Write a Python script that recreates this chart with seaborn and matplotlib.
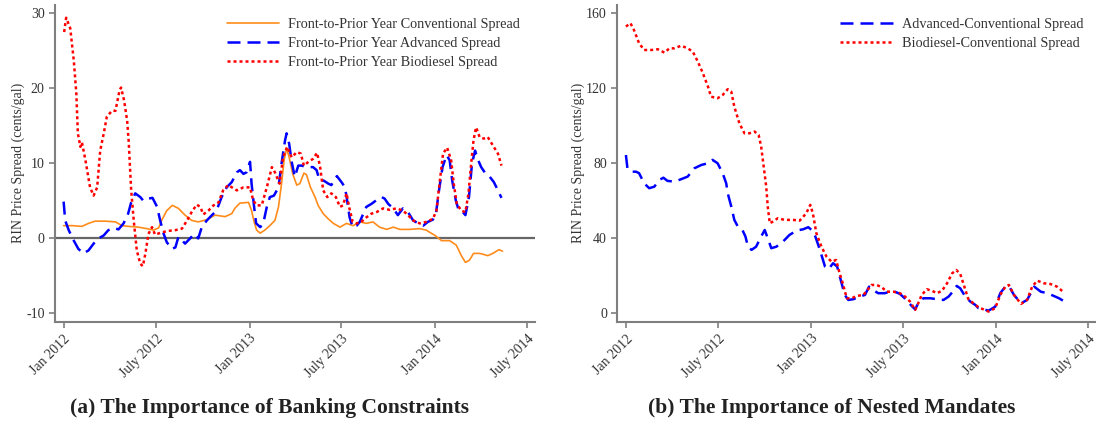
import numpy as np
import pandas as pd
import matplotlib
matplotlib.use("Agg")
import matplotlib.pyplot as plt
import seaborn as sns

# ---------------- data (days since 2012-01-01, value in cents/gal) ----------------
conv_days = [0, 17, 36, 49, 62, 82, 102, 115, 128, 147, 164, 177, 187, 193, 203, 214, 226, 239, 252,
             265, 282, 298, 318, 331, 337, 347, 364, 370, 375, 380, 387, 396, 406, 416, 423, 429, 434,
             439, 444, 451, 459, 465, 473, 478, 486, 495, 501, 511, 521, 531, 544, 557, 570, 583, 596,
             609, 622, 636, 649, 662, 681, 701, 714, 721, 731, 744, 760, 773, 783, 791, 799, 807, 819,
             825, 835, 845, 857, 864]
conv_vals = [1.7, 1.7, 1.6, 2.0, 2.3, 2.3, 2.2, 1.7, 1.6, 1.5, 1.3, 1.1, 1.4, 2.4, 3.7, 4.4, 4.0, 3.1, 2.4,
             2.2, 2.5, 3.1, 2.9, 3.3, 4.0, 4.7, 4.8, 3.7, 2.2, 1.1, 0.7, 1.1, 1.7, 2.4, 4.2, 7.3, 10.4,
             12.0, 10.8, 8.6, 7.1, 7.3, 8.7, 8.5, 6.8, 5.5, 4.4, 3.3, 2.6, 2.0, 1.5, 2.0, 1.7, 2.2, 2.0,
             2.2, 1.5, 1.2, 1.5, 1.2, 1.2, 1.3, 1.1, 0.8, 0.4, -0.3, -0.3, -0.9, -2.3, -3.2, -2.9, -2.0, -2.0,
             -2.1, -2.3, -2.0, -1.5, -1.7]

adv_days = [0, 3, 10, 20, 29, 39, 49, 59, 69, 79, 88, 98, 108, 118, 127, 133, 141, 151, 157, 167, 175,
            184, 190, 197, 203, 213, 220, 226, 234, 239, 249, 257, 265, 272, 282, 292, 301, 311, 321,
            331, 341, 347, 354, 360, 367, 370, 375, 379, 387, 393, 400, 406, 414, 423, 429, 436, 439,
            444, 449, 455, 462, 469, 477, 491, 498, 504, 512, 521, 527, 538, 547, 554, 558, 563, 569,
            577, 583, 590, 596, 606, 616, 626, 632, 639, 649, 658, 668, 678, 688, 698, 708, 717, 727,
            733, 739, 746, 754, 760, 765, 772, 778, 786, 791, 798, 804, 810, 815, 822, 831, 839, 847,
            855, 862]
adv_vals = [4.9, 2.4, 1.1, -0.3, -1.4, -2.0, -1.6, -0.7, 0.0, 0.4, 1.1, 1.4, 1.2, 2.0, 3.3, 4.8, 6.0, 5.5,
            5.0, 5.3, 5.4, 4.2, 2.4, 0.6, -0.5, -1.4, -1.2, 0.2, -0.3, -0.7, 0.0, 0.6, 0.0, 1.5, 2.4,
            3.1, 3.7, 5.5, 6.8, 7.5, 8.8, 9.1, 8.6, 8.8, 10.2, 7.3, 4.2, 2.0, 1.5, 2.0, 4.2, 5.5, 5.7,
            6.8, 10.0, 13.1, 14.0, 12.6, 10.2, 8.2, 9.7, 9.7, 9.5, 9.5, 9.1, 7.7, 7.7, 7.3, 7.1, 8.3,
            7.5, 6.8, 5.1, 2.8, 1.5, 1.7, 2.2, 3.3, 4.2, 4.6, 5.1, 5.5, 5.3, 4.6, 4.0, 3.1, 4.0, 3.5,
            2.4, 2.0, 1.7, 2.2, 2.5, 3.3, 6.4, 9.5, 11.1, 10.4, 7.7, 5.1, 3.7, 3.5, 3.1, 5.5, 10.0,
            11.7, 10.6, 9.5, 8.6, 8.2, 7.5, 6.4, 5.4]

bio_days = [1, 5, 13, 20, 25, 28, 33, 36, 43, 52, 59, 66, 72, 79, 85, 95, 102, 110, 113, 119, 125, 128,
            133, 138, 144, 151, 156, 161, 167, 174, 180, 193, 206, 220, 233, 243, 252, 262, 269, 275,
            285, 295, 305, 314, 324, 341, 354, 367, 373, 380, 390, 400, 410, 416, 425, 432, 440, 449,
            459, 467, 473, 482, 491, 499, 505, 511, 519, 527, 536, 544, 550, 557, 562, 569, 577, 586,
            596, 606, 616, 629, 642, 655, 668, 678, 688, 701, 714, 727, 734, 740, 747, 755, 763, 768,
            774, 783, 791, 797, 803, 807, 812, 819, 827, 835, 845, 855, 862]
bio_vals = [27.5, 29.4, 28.0, 23.7, 19.3, 14.0, 12.2, 12.8, 10.4, 6.8, 5.7, 6.8, 11.7, 14.0, 16.2, 17.0,
            17.0, 19.7, 20.1, 18.4, 15.7, 13.0, 6.4, 2.4, -1.6, -3.4, -3.7, -2.0, 0.6, 1.5, 0.5, 0.8,
            1.0, 1.1, 1.3, 2.4, 3.5, 4.5, 4.2, 3.2, 3.7, 4.4, 4.8, 6.4, 7.1, 6.4, 6.8, 6.8, 5.1, 4.4,
            4.4, 6.8, 9.5, 8.8, 7.3, 10.8, 12.2, 10.8, 11.5, 11.3, 9.7, 10.2, 10.6, 11.4, 9.5, 6.4,
            5.5, 6.0, 5.5, 4.2, 4.4, 6.0, 4.2, 2.2, 2.0, 2.2, 2.8, 3.3, 3.5, 4.0, 3.8, 4.0, 3.7, 3.1,
            2.4, 2.0, 2.2, 2.6, 3.7, 7.3, 11.3, 12.1, 10.4, 7.3, 4.6, 3.7, 3.5, 6.0, 10.4, 13.1, 14.8,
            13.5, 13.3, 13.5, 12.4, 11.3, 9.7]

advconv_days = [0, 3, 10, 20, 26, 36, 46, 56, 66, 74, 82, 96, 109, 122, 135, 149, 162, 171, 181, 191,
                198, 201, 208, 214, 221, 230, 236, 241, 248, 257, 267, 274, 280, 287, 297, 310, 323,
                337, 350, 360, 368, 374, 383, 393, 400, 409, 417, 424, 432, 439, 449, 462, 472, 480,
                488, 498, 511, 521, 531, 541, 554, 564, 571, 577, 587, 601, 614, 627, 637, 648, 653,
                660, 670, 680, 690, 696, 716, 729, 739, 749, 756, 766, 780, 792, 806, 819, 832, 845,
                855, 863]
advconv_vals = [84.4, 77.3, 75.5, 75.5, 74.7, 69.3, 66.7, 67.5, 71.1, 72.3, 70.6, 70.2, 71.5, 72.9, 77.3,
                79.1, 80.0, 81.8, 80.0, 74.7, 69.3, 64.0, 56.9, 49.8, 46.2, 44.4, 40.9, 35.5, 33.8,
                35.5, 40.9, 44.4, 40.0, 34.7, 35.5, 38.2, 41.8, 44.1, 44.8, 45.9, 44.1, 40.9, 33.8,
                24.9, 23.5, 26.7, 24.9, 17.8, 9.8, 7.1, 7.5, 8.9, 9.8, 14.2, 12.4, 10.7, 10.7, 11.5,
                11.5, 10.3, 7.1, 3.9, 2.1, 5.3, 8.0, 8.0, 7.5, 7.1, 8.9, 12.4, 14.6, 13.3, 8.9, 6.2,
                4.4, 2.7, 1.4, 3.5, 10.7, 14.2, 14.6, 9.8, 5.3, 7.1, 14.2, 11.5, 10.7, 9.2, 8.0, 6.7]

bioconv_days = [0, 9, 16, 26, 36, 50, 63, 76, 86, 96, 109, 122, 132, 142, 152, 162, 168, 181, 191, 201,
                208, 214, 224, 234, 244, 254, 262, 267, 272, 277, 280, 284, 290, 300, 313, 330, 343,
                356, 364, 369, 376, 386, 396, 406, 415, 421, 428, 436, 446, 455, 469, 477, 485, 495,
                505, 515, 528, 541, 551, 561, 571, 577, 584, 594, 604, 614, 624, 634, 644, 652, 660,
                667, 676, 686, 696, 716, 729, 739, 749, 756, 766, 780, 792, 802, 812, 825, 838, 851,
                863]
bioconv_vals = [152.9, 154.7, 151.0, 144.0, 140.4, 140.4, 140.8, 139.0, 141.3, 141.3, 142.7, 141.3,
                139.5, 134.2, 128.0, 120.9, 115.5, 114.7, 116.4, 119.5, 118.2, 110.2, 101.3, 96.0,
                96.0, 96.9, 95.1, 88.9, 78.2, 67.5, 56.9, 48.0, 48.9, 50.7, 49.8, 49.8, 49.4, 53.3,
                57.8, 53.3, 42.7, 35.5, 30.2, 27.5, 28.4, 22.2, 16.0, 8.0, 8.0, 9.2, 9.8, 12.4, 15.1,
                15.1, 13.9, 11.5, 11.5, 10.7, 8.9, 6.2, 1.8, 5.3, 9.8, 12.8, 12.0, 10.7, 12.0, 16.0,
                21.3, 23.1, 21.0, 15.1, 7.5, 5.3, 3.2, 0.9, 2.7, 9.8, 14.2, 15.1, 9.8, 5.0, 7.1, 14.2,
                17.4, 16.0, 15.6, 14.2, 11.5]

tick_dates = ["2012-01-01", "2012-07-01", "2013-01-01", "2013-07-01", "2014-01-01", "2014-07-01"]
tick_labels = ["Jan 2012", "July 2012", "Jan 2013", "July 2013", "Jan 2014", "July 2014"]

left_names = ["Front-to-Prior Year Conventional Spread",
              "Front-to-Prior Year Advanced Spread",
              "Front-to-Prior Year Biodiesel Spread"]
right_names = ["Advanced-Conventional Spread", "Biodiesel-Conventional Spread"]
titles = ["(a) The Importance of Banking Constraints", "(b) The Importance of Nested Mandates"]

# ---------------- style ----------------
sns.set_style("ticks")
plt.rcParams["font.family"] = ["Liberation Serif", "DejaVu Serif"]
plt.rcParams["axes.edgecolor"] = "#7f7f7f"
plt.rcParams["xtick.color"] = "#7f7f7f"
plt.rcParams["ytick.color"] = "#7f7f7f"
plt.rcParams["axes.unicode_minus"] = False

base = pd.Timestamp("2012-01-01")
def to_dates(days):
    return base + pd.to_timedelta(np.asarray(days), unit="D")

ORANGE = "#FF8C1A"
BLUE = "#0000FF"
RED = "#FF0000"

fig = plt.figure(figsize=(10.96, 4.23), dpi=100)
axL = fig.add_axes([55 / 1096, 1 - 321.7 / 423, 480 / 1096, (321.7 - 5) / 423])
axR = fig.add_axes([617.3 / 1096, 1 - 321.7 / 423, (1096 - 617.3) / 1096, (321.7 - 5) / 423])

lw = 1.8
dash = (5.2, 2.8)
dot = (1.2, 1.2)

df_c = pd.DataFrame({"date": to_dates(conv_days), "v": conv_vals})
df_a = pd.DataFrame({"date": to_dates(adv_days), "v": adv_vals})
df_b = pd.DataFrame({"date": to_dates(bio_days), "v": bio_vals})

axL.axhline(0, color="#666666", lw=1.6, zorder=1)
sns.lineplot(data=df_c, x="date", y="v", ax=axL, color=ORANGE, lw=1.2, label=left_names[0])
sns.lineplot(data=df_a, x="date", y="v", ax=axL, color=BLUE, lw=lw, label=left_names[1])
axL.lines[-1].set_dashes(dash)
sns.lineplot(data=df_b, x="date", y="v", ax=axL, color=RED, lw=lw, label=left_names[2])
axL.lines[-1].set_dashes(dot)

df_ac = pd.DataFrame({"date": to_dates(advconv_days), "v": advconv_vals})
df_bc = pd.DataFrame({"date": to_dates(bioconv_days), "v": bioconv_vals})
sns.lineplot(data=df_ac, x="date", y="v", ax=axR, color=BLUE, lw=lw, label=right_names[0])
axR.lines[-1].set_dashes(dash)
sns.lineplot(data=df_bc, x="date", y="v", ax=axR, color=RED, lw=lw, label=right_names[1])
axR.lines[-1].set_dashes(dot)

tdates = pd.to_datetime(tick_dates)
for ax, ylim, yt in [(axL, (-11.1, 31.1), [-10, 0, 10, 20, 30]),
                     (axR, (-4.5, 164.4), [0, 40, 80, 120, 160])]:
    ax.set_xlim(base + pd.Timedelta(days=-17), base + pd.Timedelta(days=928))
    ax.set_ylim(*ylim)
    ax.set_yticks(yt)
    ax.set_xticks(tdates)
    ax.set_xticklabels(tick_labels, rotation=45, ha="right", rotation_mode="anchor")
    ax.set_xlabel("")
    ax.set_ylabel("RIN Price Spread (cents/gal)", fontsize=10, color="#333333", labelpad=0.5)
    ax.tick_params(axis="both", labelsize=10, labelcolor="#333333", length=4, width=1.2,
                   direction="out")
    for s in ["top", "right"]:
        ax.spines[s].set_visible(False)
    for s in ["left", "bottom"]:
        ax.spines[s].set_linewidth(1.5)
    leg = ax.legend(loc="upper right", frameon=False, fontsize=10.25, handlelength=3.7,
                    handletextpad=0.63, labelspacing=0.42, borderaxespad=0.3)
    for t in leg.get_texts():
        t.set_color("#333333")

axL.legend_.set_bbox_to_anchor((0.99, 0.99), transform=axL.transAxes)
axR.legend_.set_bbox_to_anchor((0.995, 0.99), transform=axR.transAxes)

fig.text(270 / 1096, 1 - 408 / 423, titles[0], ha="center", va="center",
         fontsize=15.5, fontweight="bold", color="#222222")
fig.text(832 / 1096, 1 - 408 / 423, titles[1], ha="center", va="center",
         fontsize=15.5, fontweight="bold", color="#222222")

fig.savefig("out.png", dpi=100)
